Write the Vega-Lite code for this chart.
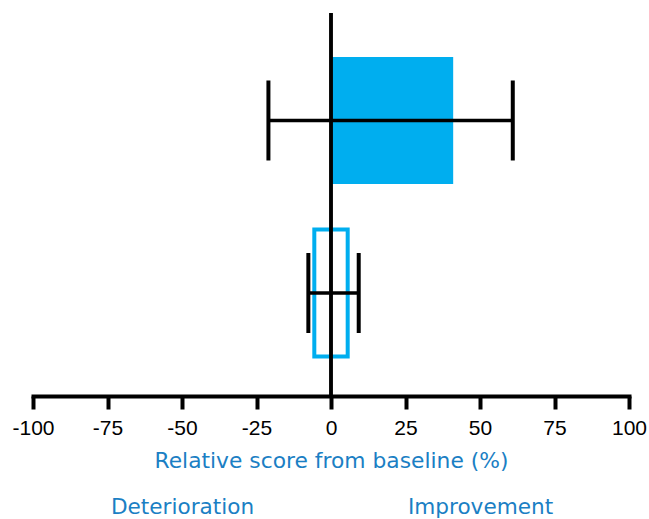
{
  "$schema": "https://vega.github.io/schema/vega-lite/v6.json",
  "autosize": {"type": "none"},
  "padding": {"left": 33, "top": 13, "right": 20, "bottom": 123},
  "width": 596,
  "height": 383,
  "config": {
    "view": {"stroke": null},
    "font": "Liberation Sans"
  },
  "data": {
    "values": [
      {"group": "A", "bar_lo": 0, "bar_hi": 41, "ci_lo": -21, "ci_hi": 61},
      {"group": "B", "bar_lo": -5.6, "bar_hi": 5.6, "ci_lo": -7.6, "ci_hi": 9.3}
    ]
  },
  "resolve": {"axis": {"x": "independent"}},
  "layer": [
    {
      "transform": [{"filter": "datum.group === 'A'"}],
      "mark": {"type": "bar", "color": "#00AEEF"},
      "encoding": {
        "x": {"field": "bar_lo", "type": "quantitative", "scale": {"domain": [-100, 100], "nice": false, "zero": false}, "axis": null},
        "x2": {"field": "bar_hi"},
        "y": {"field": "group", "type": "nominal", "scale": {"paddingInner": 0.264, "paddingOuter": 0.242, "align": 0.527}, "axis": null}
      }
    },
    {
      "transform": [{"filter": "datum.group === 'B'"}],
      "mark": {"type": "bar", "fill": "white", "stroke": "#00AEEF", "strokeWidth": 4},
      "encoding": {
        "x": {"field": "bar_lo", "type": "quantitative", "axis": null},
        "x2": {"field": "bar_hi"},
        "y": {"field": "group", "type": "nominal", "axis": null}
      }
    },
    {
      "mark": {"type": "rule", "color": "black", "strokeWidth": 3.5},
      "encoding": {
        "x": {"datum": 0, "type": "quantitative", "axis": null}
      }
    },
    {
      "mark": {"type": "rule", "color": "black", "strokeWidth": 3.5},
      "encoding": {
        "x": {"field": "ci_lo", "type": "quantitative", "axis": null},
        "x2": {"field": "ci_hi"},
        "y": {"field": "group", "type": "nominal", "axis": null}
      }
    },
    {
      "mark": {"type": "tick", "color": "black", "size": 80, "thickness": 4, "opacity": 1},
      "encoding": {
        "x": {
          "field": "ci_lo", "type": "quantitative",
          "axis": {
            "orient": "bottom",
            "values": [-100, -75, -50, -25, 0, 25, 50, 75, 100],
            "labelExpr": "datum.value + ''",
            "grid": false,
            "domainColor": "black", "domainWidth": 4, "domainCap": "square",
            "tickColor": "black", "tickWidth": 4, "tickSize": 13,
            "labelFont": "Liberation Sans", "labelFontSize": 21, "labelColor": "black",
            "labelPadding": 8, "labelFlush": false, "labelOverlap": false,
            "title": "Relative score from baseline (%)",
            "titleFont": "DejaVu Sans", "titleFontSize": 21.8, "titleFontWeight": "normal",
            "titleColor": "#1B7FC4", "titlePadding": 12
          }
        },
        "y": {"field": "group", "type": "nominal", "axis": null}
      }
    },
    {
      "mark": {"type": "tick", "color": "black", "size": 80, "thickness": 4, "opacity": 1},
      "encoding": {
        "x": {
          "field": "ci_hi", "type": "quantitative",
          "axis": {
            "orient": "bottom",
            "values": [-50, 50],
            "labelExpr": "datum.value < 0 ? 'Deterioration' : 'Improvement'",
            "grid": false, "domain": false, "ticks": false, "tickSize": 0,
            "labelFont": "DejaVu Sans", "labelFontSize": 21.6, "labelColor": "#1B7FC4",
            "labelPadding": 100, "labelFlush": false, "labelOverlap": false,
            "title": null
          }
        },
        "y": {"field": "group", "type": "nominal", "axis": null}
      }
    }
  ]
}
